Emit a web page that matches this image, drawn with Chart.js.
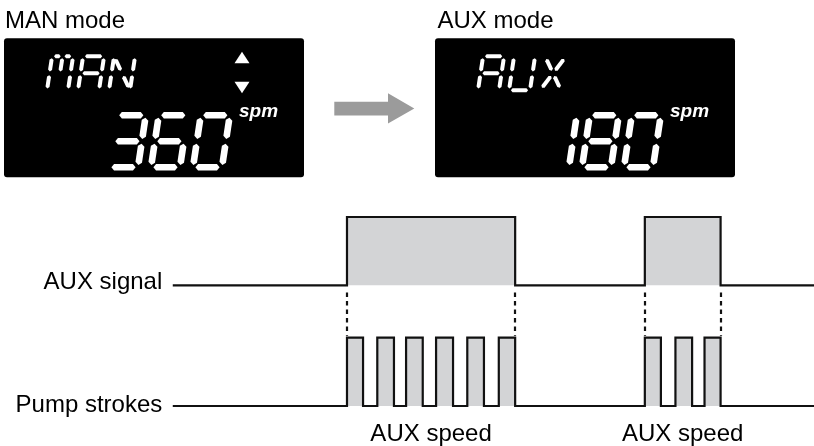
<!DOCTYPE html>
<html><head><meta charset="utf-8">
<script src="https://cdn.jsdelivr.net/npm/chart.js@4/dist/chart.umd.min.js"></script>
<style>html,body{margin:0;padding:0;background:#fff;}#wrap{width:814px;height:446px;}</style>
</head><body><div id="wrap"><canvas id="c" width="814" height="446"></canvas></div>
<script>
// Time axis in stroke periods (t = 0 at the first rising edge of the AUX signal)
const signalTimes  = [-5.75, 0, 5.55, 9.83, 12.33, 15.6];
const signalLevels = [0, 1, 0, 1, 0, 0];
const pumpTimes  = [-5.75, 0, 0.53, 1.0, 1.55, 1.95, 2.5, 2.94, 3.5, 3.97, 4.52, 5.01, 5.55, 9.83, 10.36, 10.84, 11.39, 11.8, 12.33, 15.6];
const pumpLevels = [0, 1, 0, 1, 0, 1, 0, 1, 0, 1, 0, 1, 0, 1, 0, 1, 0, 1, 0, 0];
const rowLabels = ['AUX signal', 'Pump strokes'];
const speedLabel = 'AUX speed';
const panelTitles = ['MAN mode', 'AUX mode'];
const panelModes = ['MAN', 'AUX'];
const panelSpeeds = ['360', '180'];
const panelArrows = [true, false];
const speedUnit = 'spm';

const FONT = '"Liberation Sans", Arial, sans-serif';
const LINE = '#111';
const FILL = '#d3d4d6';

// ---- segment display helpers ----
const SEG = {
  a:[[0,0],[1,0]], b:[[1,0],[1,.5]], c:[[1,.5],[1,1]], d:[[0,1],[1,1]],
  e:[[0,.5],[0,1]], f:[[0,0],[0,.5]], g:[[0,.5],[1,.5]],
  a1:[[0,0],[.5,0]], a2:[[.5,0],[1,0]], i:[[.5,0],[.5,.5]], m:[[.5,.5],[.5,1]],
  h:[[0,0],[.5,.5]], j:[[1,0],[.5,.5]], k:[[0,1],[.5,.5]], l:[[1,1],[.5,.5]]
};
const GLYPH = {
  '0':'abcdef','1':'bc','2':'abged','3':'abcdg','4':'fgbc','5':'afgcd','6':'afgedc',
  '7':'abc','8':'abcdefg','9':'abcdfg',
  M:['f','e','a1','a2','i','b','c'], A:['a','b','c','e','f','g'],
  N:['f','e','b','c','h','l'], U:['f','e','d','c','b'], X:['h','j','k','l']
};
function hexSeg(ctx, P, Q, t){
  const dx=Q[0]-P[0], dy=Q[1]-P[1], L=Math.hypot(dx,dy);
  const ux=dx/L, uy=dy/L, nx=-uy, ny=ux, h=t/2, tip=Math.min(h*0.8, L/2);
  ctx.beginPath();
  ctx.moveTo(P[0],P[1]);
  ctx.lineTo(P[0]+ux*tip+nx*h, P[1]+uy*tip+ny*h);
  ctx.lineTo(Q[0]-ux*tip+nx*h, Q[1]-uy*tip+ny*h);
  ctx.lineTo(Q[0],Q[1]);
  ctx.lineTo(Q[0]-ux*tip-nx*h, Q[1]-uy*tip-ny*h);
  ctx.lineTo(P[0]+ux*tip-nx*h, P[1]+uy*tip-ny*h);
  ctx.closePath(); ctx.fill();
}
function drawChar(ctx, ch, x0, y0, W, H, s, t, gap){
  let segs = GLYPH[ch]; if (!segs) return;
  if (typeof segs === 'string') segs = segs.split('');
  const map = (u,v) => [x0 + u + s*(H - v), y0 + v];
  segs.forEach(name => {
    const [p,q] = SEG[name];
    let u1=p[0]*W, v1=p[1]*H, u2=q[0]*W, v2=q[1]*H;
    const L=Math.hypot(u2-u1,v2-v1), g = name.length===1 && 'hjkl'.includes(name) ? gap*1.6 : gap;
    const du=(u2-u1)/L*g, dv=(v2-v1)/L*g;
    hexSeg(ctx, map(u1+du, v1+dv), map(u2-du, v2-dv), t);
  });
}
function roundRect(ctx, x, y, w, h, r){
  ctx.beginPath();
  ctx.moveTo(x+r,y); ctx.lineTo(x+w-r,y); ctx.quadraticCurveTo(x+w,y,x+w,y+r);
  ctx.lineTo(x+w,y+h-r); ctx.quadraticCurveTo(x+w,y+h,x+w-r,y+h);
  ctx.lineTo(x+r,y+h); ctx.quadraticCurveTo(x,y+h,x,y+h-r);
  ctx.lineTo(x,y+r); ctx.quadraticCurveTo(x,y,x+r,y); ctx.closePath();
}
function drawPanel(ctx, idx, bx, by){
  ctx.save();
  ctx.fillStyle = '#000';
  ctx.font = '24px ' + FONT; ctx.textBaseline = 'alphabetic'; ctx.textAlign = 'left';
  ctx.fillText(panelTitles[idx], bx + (idx === 0 ? 1 : 2.5), 28);
  roundRect(ctx, bx, by, 300, 139, 3); ctx.fill();
  ctx.fillStyle = '#fff';
  // mode text (small segments)
  panelModes[idx].split('').forEach((ch, k) => drawChar(ctx, ch, bx + 43 + k*31, by + 18, 21, 34, 0.15, 4, 1.9));
  // speed digits (large segments)
  panelSpeeds[idx].split('').forEach((ch, k) => drawChar(ctx, ch, bx + 105 + k*42, by + 77, 29, 52, 0.15, 6.6, 2.4));
  ctx.font = 'italic bold 19px ' + FONT;
  ctx.fillText(speedUnit, bx + 235, by + 78.4);
  if (panelArrows[idx]) {
    const cx = bx + 238;
    ctx.beginPath(); ctx.moveTo(cx, by+13.5); ctx.lineTo(cx+7.5, by+25); ctx.lineTo(cx-7.5, by+25); ctx.closePath(); ctx.fill();
    ctx.beginPath(); ctx.moveTo(cx-7.5, by+43.5); ctx.lineTo(cx+7.5, by+43.5); ctx.lineTo(cx, by+55); ctx.closePath(); ctx.fill();
  }
  ctx.restore();
}

const diagramPlugin = {
  id: 'diagram',
  beforeDatasetsDraw(chart){
    const {ctx, scales:{x, ySig, yPump}} = chart;
    ctx.save();
    ctx.strokeStyle = LINE; ctx.lineWidth = 2.2; ctx.setLineDash([4.4, 4.1]);
    for (let i = 1; i < signalTimes.length; i++) {
      if (signalLevels[i] !== signalLevels[i-1]) {
        const px = Math.round(x.getPixelForValue(signalTimes[i]));
        ctx.beginPath();
        ctx.moveTo(px, ySig.getPixelForValue(0) + 7.2);
        ctx.lineTo(px, yPump.getPixelForValue(1) - 2);
        ctx.stroke();
      }
    }
    ctx.restore();
  },
  afterDraw(chart){
    const {ctx, scales:{x, ySig, yPump}} = chart;
    ctx.save();
    ctx.fillStyle = '#000';
    ctx.font = '24px ' + FONT;
    ctx.textAlign = 'right'; ctx.textBaseline = 'alphabetic';
    const lx = x.getPixelForValue(signalTimes[0]) - 10.5;
    ctx.fillText(rowLabels[0], lx, ySig.getPixelForValue(0) + 4);
    ctx.fillText(rowLabels[1], lx, yPump.getPixelForValue(0) + 5.7);
    ctx.textAlign = 'center';
    let start = null;
    for (let i = 1; i < signalTimes.length; i++) {
      if (signalLevels[i] === 1 && signalLevels[i-1] === 0) start = signalTimes[i];
      if (signalLevels[i] === 0 && signalLevels[i-1] === 1 && start !== null) {
        const cx = (x.getPixelForValue(start) + x.getPixelForValue(signalTimes[i])) / 2;
        ctx.fillText(speedLabel, cx, yPump.getPixelForValue(0) + 35);
        start = null;
      }
    }
    // mode displays
    drawPanel(ctx, 0, 4, 38.3);
    drawPanel(ctx, 1, 435, 38.3);
    // transition arrow
    ctx.fillStyle = '#9b9b9b';
    ctx.beginPath();
    ctx.moveTo(334.3, 101.7); ctx.lineTo(388, 101.7); ctx.lineTo(388, 93.3);
    ctx.lineTo(414.3, 108.5); ctx.lineTo(388, 123.5); ctx.lineTo(388, 115.5);
    ctx.lineTo(334.3, 115.5); ctx.closePath(); ctx.fill();
    ctx.restore();
  }
};

const toPoints = (ts, ls) => ts.map((t, i) => ({x: t, y: ls[i]}));

new Chart(document.getElementById('c'), {
  type: 'line',
  data: {
    datasets: [
      { label: rowLabels[0], data: toPoints(signalTimes, signalLevels), yAxisID: 'ySig',
        stepped: 'before', borderColor: LINE, borderWidth: 2.2, backgroundColor: FILL,
        fill: {value: 0}, pointRadius: 0, borderJoinStyle: 'miter', borderCapStyle: 'butt' },
      { label: rowLabels[1], data: toPoints(pumpTimes, pumpLevels), yAxisID: 'yPump',
        stepped: 'before', borderColor: LINE, borderWidth: 2.2, backgroundColor: FILL,
        fill: {value: 0}, pointRadius: 0, borderJoinStyle: 'miter', borderCapStyle: 'butt' }
    ]
  },
  options: {
    responsive: false, animation: false, events: [],
    layout: {padding: 0},
    scales: {
      x: {type: 'linear', min: -11.452, max: 15.413, bounds: 'data', display: false},
      ySig: {type: 'linear', min: -2.353, max: 4.177, bounds: 'data', display: false},
      yPump: {type: 'linear', min: -0.586, max: 5.944, bounds: 'data', display: false}
    },
    plugins: {legend: {display: false}, tooltip: {enabled: false}}
  },
  plugins: [diagramPlugin]
});
</script>
</body></html>
